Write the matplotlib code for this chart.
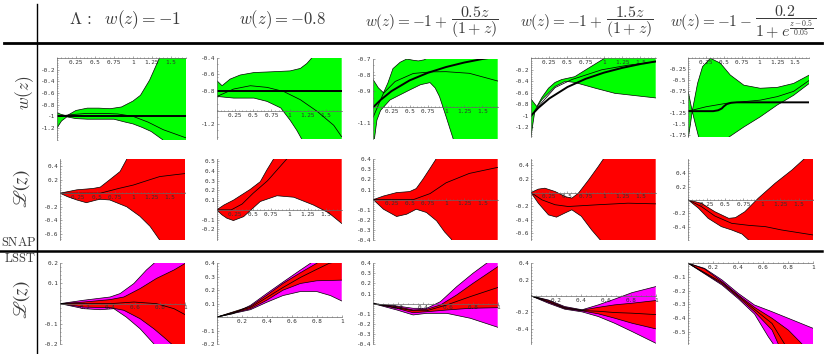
import numpy as np
import matplotlib.pyplot as plt
from matplotlib.lines import Line2D
from matplotlib.ticker import AutoMinorLocator

plt.rcParams['mathtext.fontset'] = 'cm'

W, H = 830, 354
GREEN, RED, MAG = '#00ff00', '#ff0000', '#ff00ff'

# column headers: (left part, fraction part)
head_main = [r'$\Lambda\,:\ \ w(z)=-1$', r'$w(z)=-0.8$', r'$w(z)=-1+$',
             r'$w(z)=-1+$', r'$w(z)=-1-$']
head_frac = [None, None, r'$\dfrac{0.5z}{(1+z)}$', r'$\dfrac{1.5z}{(1+z)}$',
             r'$\dfrac{0.2}{1+e^{\frac{z-0.5}{0.05}}}$']

snap_ticks = [0.25, 0.5, 0.75, 1, 1.25, 1.5]
lsst_ticks = [0.2, 0.4, 0.6, 0.8, 1]

# ---- row 1 : w(z), SNAP ----
z11u = [0, 0.06, 0.13, 0.25, 0.4, 0.55, 0.7, 0.85, 1.0, 1.1, 1.22, 1.35, 1.5, 1.7]
w11u = [-0.94, -0.97, -0.99, -0.9, -0.86, -0.86, -0.87, -0.84, -0.74, -0.64, -0.38, 0.0, 0.5, 1.2]
z11l = [0, 0.06, 0.13, 0.25, 0.4, 0.55, 0.75, 0.9, 1.0, 1.12, 1.24, 1.39, 1.55, 1.7]
w11l = [-1.2, -1.08, -1.01, -1.04, -1.05, -1.05, -1.05, -1.1, -1.13, -1.19, -1.26, -1.4, -1.7, -2.1]
z11f = [0, 0.2, 0.4, 0.6, 0.8, 1.0, 1.2, 1.4, 1.55, 1.7]
w11f = [-1.0, -0.97, -0.95, -0.95, -0.96, -1.0, -1.1, -1.23, -1.3, -1.37]
z11t = [0, 1.7]
w11t = [-1, -1]

z12u = [0, 0.07, 0.18, 0.32, 0.51, 0.78, 1.01, 1.15, 1.24, 1.31, 1.45, 1.72]
w12u = [-0.68, -0.74, -0.66, -0.61, -0.58, -0.57, -0.56, -0.53, -0.47, -0.4, -0.2, 0.2]
z12l = [0, 0.23, 0.51, 0.69, 0.88, 1.01, 1.1, 1.17, 1.3, 1.72]
w12l = [-0.87, -0.89, -0.89, -0.93, -1.01, -1.16, -1.28, -1.39, -1.7, -2.5]
z12f = [0, 0.23, 0.46, 0.69, 0.92, 1.15, 1.38, 1.61, 1.72]
w12f = [-0.87, -0.78, -0.74, -0.76, -0.81, -0.91, -1.05, -1.22, -1.36]
z12t = [0, 1.72]
w12t = [-0.8, -0.8]

z13u = [0, 0.07, 0.14, 0.2, 0.27, 0.37, 0.46, 0.55, 0.62, 0.7, 0.8, 1.0, 1.71]
w13u = [-0.83, -0.88, -0.91, -0.85, -0.76, -0.72, -0.70, -0.708, -0.712, -0.705, -0.68, -0.6, -0.4]
z13l = [0, 0.05, 0.1, 0.23, 0.5, 0.65, 0.78, 0.85, 0.91, 1.0, 1.1, 1.2, 1.71]
w13l = [-1.25, -1.08, -1.02, -0.955, -0.893, -0.86, -0.847, -0.88, -0.934, -1.058, -1.2, -1.35, -1.8]
z13f = [0, 0.14, 0.3, 0.55, 0.8, 1.0, 1.32, 1.71]
w13f = [-1.06, -0.913, -0.84, -0.79, -0.78, -0.779, -0.789, -0.837]
z13t = [0, 0.1, 0.25, 0.5, 0.75, 1.0, 1.25, 1.5, 1.71]
w13t = [-1.0, -0.955, -0.9, -0.833, -0.786, -0.75, -0.722, -0.7, -0.685]

z14u = [0, 0.08, 0.15, 0.24, 0.33, 0.42, 0.6, 0.79, 0.97, 1.01, 1.2, 1.71]
w14u = [-0.71, -0.84, -0.68, -0.52, -0.42, -0.37, -0.32, -0.17, -0.03, 0.0, 0.2, 0.5]
z14l = [0, 0.055, 0.15, 0.33, 0.47, 0.6, 0.88, 1.15, 1.71]
w14l = [-1.36, -0.9, -0.72, -0.49, -0.40, -0.42, -0.52, -0.61, -0.69]
z14f = [0, 0.1, 0.33, 0.56, 0.97, 1.33, 1.71]
w14f = [-1.01, -0.84, -0.51, -0.37, -0.2, -0.12, -0.06]
z14t = [0, 0.1, 0.25, 0.5, 0.75, 1.0, 1.25, 1.5, 1.71]
w14t = [-1.0, -0.864, -0.7, -0.5, -0.357, -0.25, -0.167, -0.1, -0.055]

z15u = [0, 0.03, 0.055, 0.13, 0.2, 0.31, 0.45, 0.59, 0.78, 1.01, 1.25, 1.48, 1.7]
w15u = [-0.76, -1.0, -1.2, -0.57, -0.19, 0.0, -0.11, -0.38, -0.61, -0.68, -0.66, -0.57, -0.38]
z15l = [0, 0.03, 0.055, 0.1, 0.155, 0.35, 0.56, 0.78, 1.01, 1.25, 1.48, 1.7]
w15l = [-1.8, -1.5, -1.2, -1.5, -1.85, -1.95, -1.8, -1.56, -1.33, -1.06, -0.84, -0.57]
z15f = [0, 0.25, 0.54, 1.01, 1.25, 1.48, 1.7]
w15f = [-1.2, -1.1, -1.02, -0.95, -0.87, -0.75, -0.5]
z15t = [0, 0.35, 0.42, 0.47, 0.5, 0.54, 0.6, 0.68, 1.7]
w15t = [-1.2, -1.2, -1.18, -1.14, -1.09, -1.04, -1.01, -1.0, -1.0]

# ---- row 2 : L(z), SNAP ----
z21u = [0, 0.23, 0.45, 0.55, 0.68, 0.82, 0.91, 1.0, 1.71]
w21u = [0, 0.05, 0.07, 0.09, 0.2, 0.32, 0.5, 0.7, 1.2]
z21l = [0, 0.1, 0.23, 0.36, 0.5, 0.55, 0.68, 0.91, 1.09, 1.23, 1.36, 1.5, 1.71]
w21l = [0, -0.05, -0.1, -0.14, -0.1, -0.09, -0.1, -0.2, -0.34, -0.49, -0.69, -0.9, -1.2]
z21f = [0, 0.55, 0.8, 1.0, 1.2, 1.36, 1.55, 1.71]
w21f = [0, 0, 0.07, 0.12, 0.19, 0.245, 0.27, 0.29]

z22u = [0, 0.1, 0.23, 0.46, 0.6, 0.69, 0.78, 0.9, 1.72]
w22u = [0, 0.05, 0.1, 0.21, 0.29, 0.41, 0.52, 0.7, 1.2]
z22l = [0, 0.07, 0.14, 0.23, 0.37, 0.6, 0.83, 1.06, 1.33, 1.54, 1.72]
w22l = [0, -0.05, -0.086, -0.11, -0.07, 0.086, 0.145, 0.13, 0.05, -0.03, -0.14]
z22f = [0, 0.2, 0.35, 0.5, 0.7, 0.96, 1.1]
w22f = [0, 0, 0.06, 0.17, 0.3, 0.52, 0.62]

z23u = [0, 0.14, 0.32, 0.5, 0.59, 0.68, 0.78, 0.86, 0.95, 1.71]
w23u = [0, 0.036, 0.07, 0.08, 0.11, 0.2, 0.31, 0.4, 0.55, 1.0]
z23l = [0, 0.14, 0.32, 0.46, 0.59, 0.73, 0.87, 0.98, 1.07, 1.15, 1.71]
w23l = [0, -0.095, -0.167, -0.144, -0.095, -0.127, -0.21, -0.32, -0.39, -0.5, -1.0]
z23f = [0, 0.55, 0.78, 1.0, 1.32, 1.71]
w23f = [0, 0, 0.06, 0.167, 0.26, 0.32]

z24u = [0, 0.1, 0.19, 0.33, 0.47, 0.56, 0.65, 0.79, 0.92, 0.99, 1.1, 1.71]
w24u = [0, 0.05, 0.064, 0.015, -0.06, -0.083, -0.01, 0.186, 0.38, 0.49, 0.65, 1.2]
z24l = [0, 0.1, 0.24, 0.35, 0.47, 0.56, 0.69, 0.83, 0.95, 1.05, 1.71]
w24l = [0, -0.157, -0.33, -0.363, -0.30, -0.255, -0.35, -0.55, -0.7, -0.85, -1.5]
z24f = [0, 0.15, 0.33, 0.51, 0.92, 1.33, 1.71]
w24f = [0, -0.108, -0.18, -0.206, -0.18, -0.157, -0.167]

z25u = [0, 0.18, 0.36, 0.55, 0.64, 0.77, 0.95, 1.18, 1.41, 1.57, 1.7]
w25u = [0, -0.05, -0.175, -0.275, -0.265, -0.175, 0.025, 0.25, 0.45, 0.61, 0.75]
z25l = [0, 0.14, 0.27, 0.45, 0.59, 0.73, 0.82, 0.9, 1.7]
w25l = [0, -0.125, -0.275, -0.4, -0.45, -0.51, -0.6, -0.7, -1.2]
z25f = [0, 0.18, 0.36, 0.59, 0.82, 1.05, 1.27, 1.5, 1.7]
w25f = [0, -0.1, -0.24, -0.35, -0.38, -0.4, -0.45, -0.49, -0.525]

# ---- row 3 : L(z), LSST (outer band magenta, inner band red) ----
z31mu = [0, 0.19, 0.4, 0.48, 0.59, 0.69, 0.75, 0.85, 1.0]
w31mu = [0, 0.017, 0.033, 0.05, 0.1, 0.167, 0.2, 0.26, 0.35]
z31ml = [0, 0.19, 0.32, 0.43, 0.53, 0.64, 0.75, 0.85, 1.0]
w31ml = [0, -0.025, -0.03, -0.025, -0.067, -0.125, -0.2, -0.28, -0.4]
z31ru = [0, 0.19, 0.4, 0.51, 0.64, 0.77, 0.91, 1.0]
w31ru = [0, 0.008, 0.02, 0.033, 0.075, 0.125, 0.167, 0.2]
z31rl = [0, 0.19, 0.4, 0.51, 0.64, 0.75, 0.83, 0.89, 1.0]
w31rl = [0, -0.017, -0.02, -0.033, -0.075, -0.125, -0.167, -0.2, -0.26]
z31f = [0, 0.4, 0.59, 0.77, 0.91, 1.0]
w31f = [0, 0.0, 0.008, 0.0, -0.025, -0.055]

z32mu = [0, 0.13, 0.27, 0.4, 0.53, 0.67, 0.75, 0.85, 1.0]
w32mu = [0, 0.025, 0.0875, 0.175, 0.26, 0.35, 0.4, 0.47, 0.6]
z32ml = [0, 0.27, 0.4, 0.53, 0.67, 0.8, 0.91, 1.0]
w32ml = [0, 0.055, 0.11, 0.16, 0.19, 0.19, 0.16, 0.12]
z32ru = [0, 0.27, 0.4, 0.53, 0.67, 0.8, 0.9, 1.0]
w32ru = [0, 0.08, 0.1625, 0.25, 0.33, 0.4, 0.46, 0.52]
z32rl = [0, 0.27, 0.4, 0.53, 0.67, 0.8, 1.0]
w32rl = [0, 0.0625, 0.125, 0.2, 0.25, 0.27, 0.275]
z32f = [0, 0.27, 0.4, 0.53, 0.67, 0.8, 0.9, 1.0]
w32f = [0, 0.072, 0.145, 0.22, 0.295, 0.355, 0.4, 0.42]

z33mu = [0, 0.19, 0.32, 0.43, 0.54, 0.67, 0.8, 0.91, 1.0]
w33mu = [0, -0.023, -0.046, -0.046, 0.02, 0.168, 0.3, 0.4, 0.47]
z33ml = [0, 0.19, 0.32, 0.43, 0.59, 0.78, 1.0]
w33ml = [0, -0.063, -0.112, -0.096, -0.096, -0.145, -0.234]
z33ru = [0, 0.19, 0.32, 0.43, 0.54, 0.67, 0.8, 1.0]
w33ru = [0, -0.03, -0.063, -0.056, -0.013, 0.086, 0.2, 0.366]
z33rl = [0, 0.19, 0.32, 0.43, 0.59, 0.78, 1.0]
w33rl = [0, -0.046, -0.09, -0.08, -0.063, -0.046, -0.04]
z33f = [0, 0.32, 0.43, 0.59, 0.78, 1.0]
w33f = [0, -0.07, -0.07, -0.013, 0.07, 0.16]

z34mu = [0, 0.14, 0.27, 0.41, 0.54, 0.67, 0.81, 1.0]
w34mu = [0, -0.05, -0.13, -0.17, -0.11, -0.04, 0.04, 0.114]
z34ml = [0, 0.14, 0.27, 0.41, 0.54, 0.67, 0.81, 1.0]
w34ml = [0, -0.09, -0.163, -0.196, -0.253, -0.335, -0.437, -0.58]
z34ru = [0, 0.14, 0.27, 0.41, 0.54, 0.67, 0.81, 1.0]
w34ru = [0, -0.057, -0.14, -0.175, -0.14, -0.11, -0.09, -0.057]
z34rl = [0, 0.14, 0.27, 0.41, 0.54, 0.67, 0.81, 1.0]
w34rl = [0, -0.078, -0.155, -0.184, -0.22, -0.273, -0.335, -0.404]
z34f = [0, 0.14, 0.27, 0.41, 0.54, 0.67, 0.81, 1.0]
w34f = [0, -0.07, -0.147, -0.18, -0.188, -0.204, -0.212, -0.229]

z35mu = [0, 0.13, 0.27, 0.4, 0.53, 0.67, 0.8, 1.0]
w35mu = [0, -0.037, -0.122, -0.22, -0.305, -0.354, -0.402, -0.476]
z35ml = [0, 0.27, 0.4, 0.53, 0.64, 0.68, 1.0]
w35ml = [0, -0.159, -0.259, -0.371, -0.537, -0.59, -1.1]
z35ru = [0, 0.13, 0.27, 0.4, 0.53, 0.67, 0.8, 0.91, 1.0]
w35ru = [0, -0.041, -0.134, -0.232, -0.322, -0.402, -0.488, -0.59, -0.7]
z35rl = [0, 0.27, 0.4, 0.53, 0.67, 0.72, 1.0]
w35rl = [0, -0.151, -0.249, -0.354, -0.488, -0.59, -1.0]
z35f = [0, 0.27, 0.4, 0.53, 0.67, 0.77, 1.0]
w35f = [0, -0.141, -0.239, -0.337, -0.44, -0.59, -0.9]


fig = plt.figure(figsize=(W / 100, H / 100), dpi=100)


def lab(v):
    return f'{v:g}'


def panel(L, R, T, B, xmax, ylo, yhi, ycross, xt, yt):
    ax = fig.add_axes([L / W, 1 - B / H, (R - L) / W, (B - T) / H])
    ax.set_xlim(0, xmax)
    ax.set_ylim(ylo, yhi)
    ax.patch.set_visible(False)
    for s in ['top', 'right']:
        ax.spines[s].set_visible(False)
    ax.spines['left'].set_position(('data', 0))
    ax.spines['bottom'].set_position(('data', ycross))
    for s in ['left', 'bottom']:
        ax.spines[s].set_linewidth(0.5)
        ax.spines[s].set_color('#666666')
    ax.set_xticks(xt, [lab(v) for v in xt])
    ax.set_yticks(yt, [lab(v) for v in yt])
    ax.xaxis.set_minor_locator(AutoMinorLocator(5))
    ax.yaxis.set_minor_locator(AutoMinorLocator(5))
    ax.tick_params(which='both', direction='in', width=0.4, color='#666666',
                   labelcolor='#333333', labelsize=4.3, pad=1.2, length=1.6,
                   labelfontfamily='DejaVu Sans Mono')
    ax.tick_params(which='minor', length=0.9)
    return ax


def band(ax, zu, u, zl, l, color):
    xs = np.r_[zu, np.asarray(zl)[::-1]]
    ys = np.r_[u, np.asarray(l)[::-1]]
    ax.fill(xs, ys, color=color, lw=0, zorder=1)
    ax.plot(zu, u, color='k', lw=0.5, zorder=1.6)
    ax.plot(zl, l, color='k', lw=0.5, zorder=1.6)


def thin(ax, z, w):
    ax.plot(z, w, color='k', lw=0.55, zorder=2)


def thick(ax, z, w):
    ax.plot(z, w, color='k', lw=1.4, zorder=2.2)


# row 1
ax = panel(57, 186, 58, 139.6, 1.7, -1.4, 0, 0, snap_ticks, [-0.2, -0.4, -0.6, -0.8, -1, -1.2])
band(ax, z11u, w11u, z11l, w11l, GREEN); thin(ax, z11f, w11f); thick(ax, z11t, w11t)

ax = panel(217, 341.7, 57.7, 139.3, 1.72, -1.39, -0.4, -1.05, snap_ticks, [-0.4, -0.6, -0.8, -1.2])
band(ax, z12u, w12u, z12l, w12l, GREEN); thin(ax, z12f, w12f); thick(ax, z12t, w12t)

ax = panel(373.3, 497.7, 59, 139.3, 1.71, -1.2, -0.7, -1.0, snap_ticks, [-0.7, -0.8, -0.9, -1.1])
band(ax, z13u, w13u, z13l, w13l, GREEN); thin(ax, z13f, w13f); thick(ax, z13t, w13t)

ax = panel(531, 655.7, 58.3, 137, 1.71, -1.37, 0, 0, snap_ticks, [-0.2, -0.4, -0.6, -0.8, -1, -1.2])
band(ax, z14u, w14u, z14l, w14l, GREEN); thin(ax, z14f, w14f); thick(ax, z14t, w14t)

ax = panel(688.3, 809.3, 58.3, 136.7, 1.7, -1.78, 0, 0, snap_ticks,
           [-0.25, -0.5, -0.75, -1, -1.25, -1.5, -1.75])
band(ax, z15u, w15u, z15l, w15l, GREEN); thin(ax, z15f, w15f); thick(ax, z15t, w15t)

# row 2
ax = panel(60, 185.3, 159.3, 240, 1.71, -0.69, 0.5, 0, snap_ticks, [0.4, 0.2, -0.2, -0.4, -0.6])
band(ax, z21u, w21u, z21l, w21l, RED); thin(ax, z21f, w21f)

ax = panel(216.7, 341.7, 159.3, 240, 1.72, -0.31, 0.52, 0, snap_ticks,
           [0.5, 0.4, 0.3, 0.2, 0.1, -0.1, -0.2])
band(ax, z22u, w22u, z22l, w22l, RED); thin(ax, z22f, w22f)

ax = panel(373.3, 497.7, 159.3, 240, 1.71, -0.4, 0.4, 0, snap_ticks,
           [0.4, 0.3, 0.2, 0.1, -0.1, -0.2, -0.3, -0.4])
band(ax, z23u, w23u, z23l, w23l, RED); thin(ax, z23f, w23f)

ax = panel(531, 655.7, 159.3, 240, 1.71, -0.7, 0.49, 0, snap_ticks, [0.4, 0.2, -0.2, -0.4, -0.6])
band(ax, z24u, w24u, z24l, w24l, RED); thin(ax, z24f, w24f)

ax = panel(688.3, 813.3, 159.3, 240, 1.7, -0.6, 0.61, 0, snap_ticks, [0.4, 0.2, -0.2, -0.4])
band(ax, z25u, w25u, z25l, w25l, RED); thin(ax, z25f, w25f)

# row 3
lsst = [
    (60, 185.3, -0.2, 0.2, [0.2, 0.1, -0.1, -0.2],
     z31mu, w31mu, z31ml, w31ml, z31ru, w31ru, z31rl, w31rl, z31f, w31f),
    (216.7, 341.7, -0.2, 0.4, [0.4, 0.3, 0.2, 0.1, -0.1, -0.2],
     z32mu, w32mu, z32ml, w32ml, z32ru, w32ru, z32rl, w32rl, z32f, w32f),
    (373.3, 497.7, -0.4, 0.4, [0.4, 0.3, 0.2, 0.1, -0.1, -0.2, -0.3, -0.4],
     z33mu, w33mu, z33ml, w33ml, z33ru, w33ru, z33rl, w33rl, z33f, w33f),
    (531, 655.7, -0.59, 0.4, [0.4, 0.2, -0.2, -0.4],
     z34mu, w34mu, z34ml, w34ml, z34ru, w34ru, z34rl, w34rl, z34f, w34f),
    (688.3, 813.3, -0.59, 0, [-0.1, -0.2, -0.3, -0.4, -0.5],
     z35mu, w35mu, z35ml, w35ml, z35ru, w35ru, z35rl, w35rl, z35f, w35f),
]
for (L, R, ylo, yhi, yt, zmu, wmu, zml, wml, zru, wru, zrl, wrl, zf, wf) in lsst:
    ax = panel(L, R, 263.3, 344, 1.0, ylo, yhi, 0, lsst_ticks, yt)
    band(ax, zmu, wmu, zml, wml, MAG)
    band(ax, zru, wru, zrl, wrl, RED)
    thin(ax, zf, wf)

# table rules
fig.add_artist(Line2D([37.3 / W] * 2, [1 - 4 / H, 0], color='k', lw=1.0))
fig.add_artist(Line2D([4 / W, 822 / W], [1 - 43 / H] * 2, color='k', lw=2.0))
fig.add_artist(Line2D([0, 822 / W], [1 - 250.5 / H] * 2, color='k', lw=1.8))

# headers: plain ones centred, the ones with a fraction split at the operator
hcol = '#3a3a3a'
fig.text(124.5 / W, 1 - 20 / H, head_main[0], ha='center', va='center', fontsize=12.5, color=hcol)
fig.text(282 / W, 1 - 20 / H, head_main[1], ha='center', va='center', fontsize=12, color=hcol)
split_x = [449, 604, 753.5]
for sx, m, f in zip(split_x, head_main[2:], head_frac[2:]):
    fig.text((sx - 2) / W, 1 - 21.5 / H, m, ha='right', va='center', fontsize=11, color=hcol)
    fig.text((sx + 1.5) / W, 1 - 22.5 / H, f, ha='left', va='center', fontsize=11.5, color=hcol)

# row labels
fig.text(25 / W, 1 - 93 / H, r'$w(z)$', rotation=90, ha='center', va='center',
         fontsize=12.5, color=hcol)
fig.text(22 / W, 1 - 189 / H, r'$\mathscr{L}(z)$', rotation=90, ha='center', va='center',
         fontsize=13.5, color=hcol, math_fontfamily='stix')
fig.text(22 / W, 1 - 300 / H, r'$\mathscr{L}(z)$', rotation=90, ha='center', va='center',
         fontsize=13.5, color=hcol, math_fontfamily='stix')
fig.text(19 / W, 1 - 243 / H, r'$\mathrm{SNAP}$', ha='center', va='center',
         fontsize=9, color=hcol)
fig.text(20 / W, 1 - 259 / H, r'$\mathrm{LSST}$', ha='center', va='center',
         fontsize=9, color=hcol)

fig.savefig('out.png', dpi=100)
